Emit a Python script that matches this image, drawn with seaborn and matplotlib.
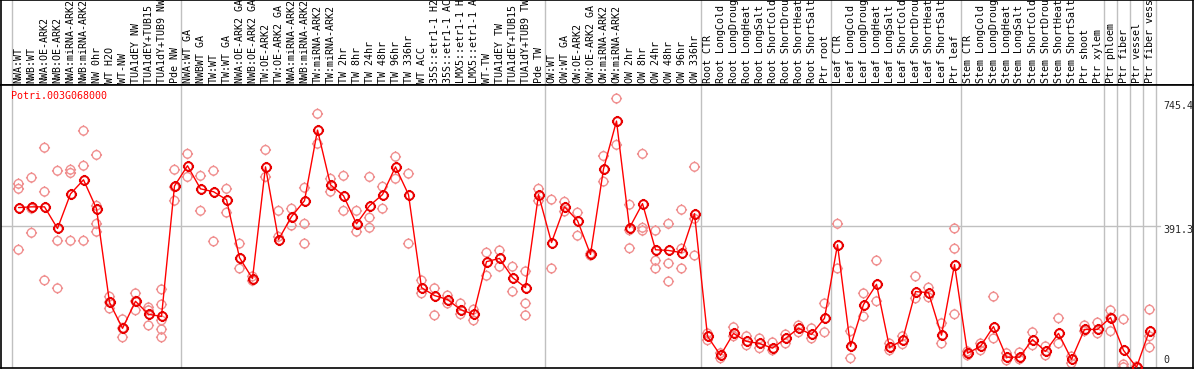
import numpy as np
import pandas as pd
import matplotlib
matplotlib.use("Agg")
import matplotlib.pyplot as plt
from matplotlib.path import Path
import seaborn as sns

gene = "Potri.003G068000"

labels = [
    "NWA:WT", "NWB:WT", "NWA:OE-ARK2", "NWB:OE-ARK2", "NWA:miRNA-ARK2", "NWB:miRNA-ARK2",
    "NW 0hr", "WT H2O", "WT-NW", "TUA1dEY NW", "TUA1dEY+TUB15 NW", "TUA1dY+TUB9 NW", "Pde NW",
    "NWA:WT GA", "NWBWT GA", "TW:WT", "TW:WT GA", "NWA:OE-ARK2 GA", "NWB:OE-ARK2 GA",
    "TW:OE-ARK2", "TW:OE-ARK2 GA", "NWA:miRNA-ARK2", "NWB:miRNA-ARK2", "TW:miRNA-ARK2",
    "TW:miRNA-ARK2", "TW 2hr", "TW 8hr", "TW 24hr", "TW 48hr", "TW 96hr", "TW 336hr",
    "WT ACC", "35S::etr1-1 H2O", "35S::etr1-1 ACC", "LMX5::etr1-1 H2O", "LMX5::etr1-1 ACC",
    "WT-TW", "TUA1dEY TW", "TUA1dEY+TUB15 TW", "TUA1dY+TUB9 TW", "Pde TW",
    "OW:WT", "OW:WT GA", "OW:OE-ARK2", "OW:OE-ARK2 GA", "OW:miRNA-ARK2", "OW:miRNA-ARK2",
    "OW 2hr", "OW 8hr", "OW 24hr", "OW 48hr", "OW 96hr", "OW 336hr",
    "Root CTR", "Root LongCold", "Root LongDrought", "Root LongHeat", "Root LongSalt",
    "Root ShortCold", "Root ShortDrought", "Root ShortHeat", "Root ShortSalt", "Ptr root",
    "Leaf CTR", "Leaf LongCold", "Leaf LongDrought", "Leaf LongHeat", "Leaf LongSalt",
    "Leaf ShortCold", "Leaf ShortDrought", "Leaf ShortHeat", "Leaf ShortSalt", "Ptr leaf",
    "Stem CTR", "Stem LongCold", "Stem LongDrought", "Stem LongHeat", "Stem LongSalt",
    "Stem ShortCold", "Stem ShortDrought", "Stem ShortHeat", "Stem ShortSalt",
    "Ptr shoot", "Ptr xylem", "Ptr phloem", "Ptr fiber", "Ptr vessel", "Ptr fiber vessel",
]

means = [
    443, 445, 445, 385, 481, 520, 440, 180, 108, 183, 147, 141, 503,
    559, 495, 487, 465, 304, 246, 556, 354, 418, 462, 658, 506, 476, 398, 448, 479, 556, 479,
    221, 199, 188, 160, 147, 293, 302, 249, 221, 479,
    346, 445, 407, 313, 550, 683, 387, 454, 326, 324, 318, 426,
    86, 33, 94, 72, 66, 53, 80, 108, 91, 136,
    340, 58, 174, 230, 55, 75, 210, 207, 89, 285,
    39, 58, 113, 28, 28, 77, 44, 94, 22, 105, 105,
    138, 47, 0, 102,
]

reps = [
    [509, 495, 326], [526, 440, 373], [609, 487, 241], [545, 351, 219], [548, 539, 351],
    [656, 559, 351], [589, 448, 398, 376], [196, 163, 180], [133, 83, 108], [205, 158, 183],
    [166, 116, 158], [216, 174, 130, 105, 83], [548, 500, 462],
    [592, 528], [531, 434], [545, 349], [495, 429], [343, 274], [252, 240], [603, 528],
    [434, 362], [440, 393], [498, 398, 343], [703, 620], [523, 487], [531, 434],
    [434, 376], [528, 415, 387], [501, 440], [584, 523], [537, 343],
    [241, 205], [219, 144], [199, 177], [177, 147], [160, 130], [318, 254], [324, 279],
    [279, 210], [266, 177, 144], [495, 462],
    [465, 274], [459, 432], [429, 365], [315, 310], [586, 515], [745.4, 617],
    [451, 380, 330], [592, 387, 379], [379, 296, 274], [398, 288, 238], [437, 329, 274],
    [556, 412, 310],
    [94, 75], [39, 25], [111, 86], [86, 61], [80, 53], [69, 47], [91, 66], [116, 97],
    [108, 80], [177, 97],
    [398, 274], [100, 25], [205, 141], [296, 183], [66, 47], [86, 64], [252, 191],
    [221, 194], [122, 66], [385, 329, 147],
    [44, 33], [66, 47], [196, 80], [39, 19], [41, 22], [97, 61], [58, 33], [136, 66],
    [30, 11], [116, 100], [124, 94],
    [158, 100, 138], [133, 8, 0], [2, 0, 0], [86, 55, 160],
]

separators = [-0.5, 12.5, 40.5, 52.5, 62.5, 72.5, 83.5, 84.5, 85.5, 86.5, 87.5]
right_ticks = [745.4, 391.3, 0]

# long-form tables
mean_df = pd.DataFrame({"pos": np.arange(len(means)), "value": means})
rep_rows = [(i, v) for i, vals in enumerate(reps) for v in vals]
rep_df = pd.DataFrame(rep_rows, columns=["pos", "value"])

# open circle marker with four short ticks
ang = np.linspace(0, 2 * np.pi, 41)
verts = [(np.cos(a), np.sin(a)) for a in ang]
codes = [Path.MOVETO] + [Path.LINETO] * (len(ang) - 1)
for dx, dy in [(1, 0), (-1, 0), (0, 1), (0, -1)]:
    verts += [(dx, dy), (1.3 * dx, 1.3 * dy)]
    codes += [Path.MOVETO, Path.LINETO]
marker = Path(verts, codes)

sns.set_style("white")
plt.rcParams["font.family"] = ["DejaVu Sans Mono", "DejaVu Sans"]

W, H = 1194, 370
fig = plt.figure(figsize=(W / 100, H / 100), dpi=100)
ax_lab = fig.add_axes([1 / W, 285 / H, 1192 / W, 85 / H])
ax = fig.add_axes([1 / W, 2 / H, 1192 / W, 283 / H])

xlim = ((1 - 18.5) / 13, (1193 - 18.5) / 13)
for a in (ax, ax_lab):
    a.set_xlim(*xlim)
    a.set_xticks([])
    a.set_yticks([])
    for s in a.spines.values():
        s.set_color("black")
        s.set_linewidth(1.2)
    for xs in separators:
        a.axvline(xs, color="#c0c0c0", lw=1, zorder=0)

ax_lab.set_ylim(0, 1)
for i, lab in enumerate(labels):
    ax_lab.text(i, 2 / 85, lab, rotation=90, ha="center", va="bottom",
                fontsize=7.2, color="black")

ax.set_ylim(-2, 783)
ax.axhline(391.3, xmax=(1160 - 1) / 1192, color="#c0c0c0", lw=1, zorder=0)

sns.scatterplot(data=rep_df, x="pos", y="value", ax=ax, marker=marker, s=64,
                facecolors="none", edgecolor="#f09090", linewidth=1, zorder=2,
                legend=False)
sns.lineplot(data=mean_df, x="pos", y="value", ax=ax, color="#ff0000", lw=1,
             marker=marker, markersize=8, markerfacecolor="none",
             markeredgecolor="#e80000", markeredgewidth=1.4, zorder=3)
ax.set_xlabel("")
ax.set_ylabel("")

# gene name, top-left of the plot area
ax.text(-0.6, (369 - 97) / 0.3615, gene, fontsize=7.2, color="red",
        ha="left", va="center")

tx = (1163 - 18.5) / 13
ax.annotate(f"{right_ticks[0]}", (tx, right_ticks[0]), xytext=(0, -2),
            textcoords="offset points", fontsize=7.2, ha="left", va="top")
ax.annotate(f"{right_ticks[1]}", (tx, right_ticks[1]), xytext=(0, -3),
            textcoords="offset points", fontsize=7.2, ha="left", va="center")
ax.annotate(f"{right_ticks[2]}", (tx, right_ticks[2]), xytext=(0, 2),
            textcoords="offset points", fontsize=7.2, ha="left", va="bottom")

fig.savefig("out.png", dpi=100)
